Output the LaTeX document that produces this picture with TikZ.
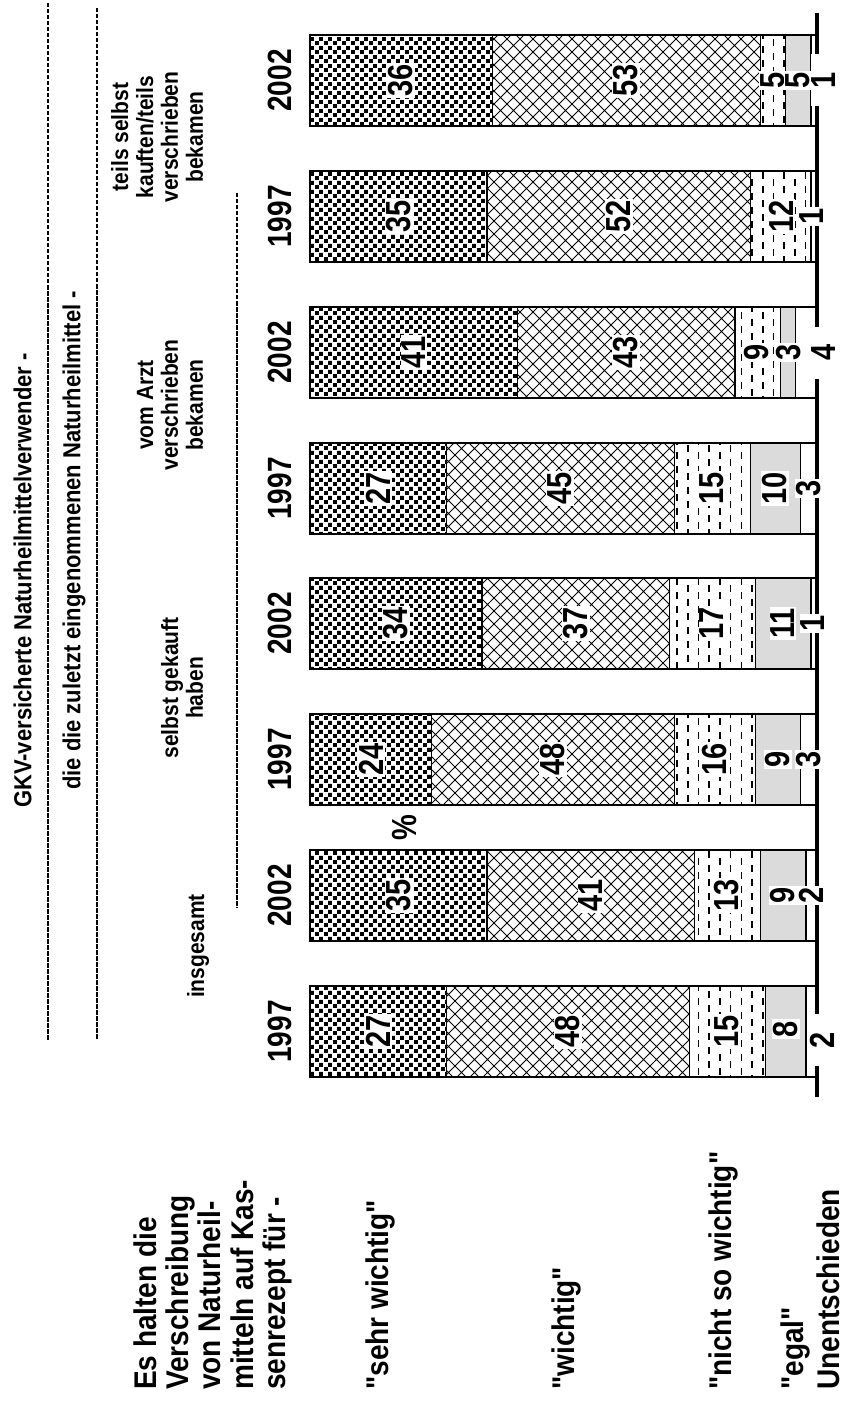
\documentclass[tikz,border=0pt]{standalone}
\usepackage{fontspec}
\setmainfont{Liberation Sans}[Ligatures=TeXOff]
\usetikzlibrary{patterns}
\pgfdeclarepatternformonly{mydots}{\pgfpointorigin}{\pgfpoint{9pt}{9pt}}{\pgfpoint{9pt}{9pt}}{%
  \pgfpathrectangle{\pgfpoint{0.1pt}{0.1pt}}{\pgfpoint{4.2pt}{4.2pt}}%
  \pgfpathrectangle{\pgfpoint{4.6pt}{4.6pt}}{\pgfpoint{4.2pt}{4.2pt}}%
  \pgfusepath{fill}}
\pgfdeclarepatternformonly{myhatch}{\pgfpoint{-1pt}{-1pt}}{\pgfpoint{14pt}{14pt}}{\pgfpoint{13pt}{13pt}}{%
  \pgfsetlinewidth{1pt}%
  \pgfpathmoveto{\pgfpoint{0pt}{0pt}}\pgfpathlineto{\pgfpoint{13pt}{13pt}}%
  \pgfpathmoveto{\pgfpoint{0pt}{13pt}}\pgfpathlineto{\pgfpoint{13pt}{0pt}}%
  \pgfusepath{stroke}}
\pgfdeclarepatternformonly{mydash}{\pgfpoint{-1pt}{-1pt}}{\pgfpoint{22.4pt}{15pt}}{\pgfpoint{21.4pt}{14pt}}{%
  \pgfsetlinewidth{1.6pt}%
  \pgfpathmoveto{\pgfpoint{3pt}{0pt}}\pgfpathlineto{\pgfpoint{3pt}{6.5pt}}%
  \pgfpathmoveto{\pgfpoint{13.7pt}{7pt}}\pgfpathlineto{\pgfpoint{13.7pt}{13.5pt}}%
  \pgfusepath{stroke}}
\newcommand\st[1]{\scalebox{1}[1.12]{#1}}
\newcommand\stt[1]{\scalebox{1}[1.2]{#1}}
\newcommand\bigf{\fontsize{28}{30}\selectfont\bfseries}
\newcommand\numf{\fontsize{29}{30}\selectfont\bfseries}
\newcommand\midf{\fontsize{21}{22.3}\selectfont\bfseries}
\newcommand\hdrf{\fontsize{22}{24}\selectfont\bfseries}
\newcommand\mybar[5]{%
  \pgfmathsetmacro\xa{310+5.06*#2}%
  \pgfmathsetmacro\xb{\xa+5.06*#3}%
  \pgfmathsetmacro\xc{\xb+5.06*#4}%
  \pgfmathsetmacro\xd{\xc+5.06*#5}%
  \pgfmathsetmacro\yb{#1+91}%
  \fill[pattern=mydots] (310,#1) rectangle (\xa,\yb);
  \fill[pattern=myhatch] (\xa,#1) rectangle (\xb,\yb);
  \fill[pattern=mydash] (\xb,#1) rectangle (\xc,\yb);
  \fill[graybar] (\xc,#1) rectangle (\xd,\yb);
  \draw[barline] (310,#1) rectangle (816,\yb);
  \draw[barline] (\xa,#1) -- (\xa,\yb) (\xb,#1) -- (\xb,\yb) (\xc,#1) -- (\xc,\yb) (\xd,#1) -- (\xd,\yb);
}
\begin{document}
\begin{tikzpicture}[x=1pt,y=-1pt,
  barline/.style={line width=1.3pt},
  graybar/.style={fill=black!14},
  num/.style={rotate=90,fill=white,inner sep=1.5pt,font=\numf},
  outnum/.style={num,minimum width=52pt},
  year/.style={rotate=90,inner sep=0pt,font=\bigf},
  grp/.style={rotate=90,inner sep=0pt,font=\midf},
  cat/.style={rotate=90,inner sep=0pt,font=\bigf,anchor=west},
  hdr/.style={rotate=90,inner sep=0pt,font=\hdrf,anchor=west},
  dline/.style={line width=2.2pt,dash pattern=on 4.5pt off 1.5pt},
  baseln/.style={line width=4.5pt}]
\useasboundingbox (0,0) rectangle (843,1404);
\fill[white] (0,0) rectangle (843,1404);

% header
\node[hdr] (h1) at (22.5,808) {\st{GKV-versicherte Naturheilmittelverwender -}};
\coordinate (d1a) at (48,3); \coordinate (d1b) at (48,1040);
\draw[dline] (d1a) -- (d1b);
\node[hdr] (h2) at (74,790) {\st{die die zuletzt eingenommenen Naturheilmittel -}};
\coordinate (d2a) at (97,8); \coordinate (d2b) at (97,1040);
\draw[dline] (d2a) -- (d2b);
\coordinate (d3a) at (237,193); \coordinate (d3b) at (237,908);
\draw[dline] (d3a) -- (d3b);

\node[grp] (g1) at (160.5,137) {\st{\begin{tabular}{@{}c@{}}teils selbst\\kauften/teils\\verschrieben\\bekamen\end{tabular}}};
\node[grp] (g2) at (173,405) {\st{\begin{tabular}{@{}c@{}}vom Arzt\\verschrieben\\bekamen\end{tabular}}};
\node[grp] (g3) at (185.5,688) {\st{\begin{tabular}{@{}c@{}}selbst gekauft\\haben\end{tabular}}};
\node[grp] (g4) at (198,946) {\st{insgesamt}};

% years
\node[year] (y1) at (280,80.5) {\stt{2002}};
\node[year] (y2) at (280,216.5) {\stt{1997}};
\node[year] (y3) at (280,352.5) {\stt{2002}};
\node[year] (y4) at (280,488.5) {\stt{1997}};
\node[year] (y5) at (280,623.5) {\stt{2002}};
\node[year] (y6) at (280,759.5) {\stt{1997}};
\node[year] (y7) at (280,895.5) {\stt{2002}};
\node[year] (y8) at (280,1031.5) {\stt{1997}};

% bars
\mybar{35}{36}{53}{5}{5}
\mybar{171}{35}{52}{12}{0}
\mybar{307}{41}{43}{9}{3}
\mybar{443}{27}{45}{15}{10}
\mybar{578}{34}{37}{17}{11}
\mybar{714}{24}{48}{16}{9}
\mybar{850}{35}{41}{13}{9}
\mybar{986}{27}{48}{15}{8}

\coordinate (bt) at (817,13); \coordinate (bb) at (817,1097);
\draw[baseln] (bt) -- (bb);

% values
\node[num] (v11) at (401,80.5) {\stt{36}};
\node[num] (v12) at (626,80.5) {\stt{53}};
\node[num] (v13) at (773,80.5) {\stt{5}};
\node[num] (v14) at (798,80.5) {\stt{5}};
\node[outnum] (v15) at (824,80.5) {\stt{1}};

\node[num] (v21) at (399,216.5) {\stt{35}};
\node[num] (v22) at (619,216.5) {\stt{52}};
\node[num] (v23) at (781,216.5) {\stt{12}};
\node[num] (v25) at (812,216.5) {\stt{1}};

\node[num] (v31) at (414,352.5) {\stt{41}};
\node[num] (v32) at (626,352.5) {\stt{43}};
\node[num] (v33) at (757,352.5) {\stt{9}};
\node[num] (v34) at (789,352.5) {\stt{3}};
\node[outnum] (v35) at (824,352.5) {\stt{4}};

\node[num] (v41) at (378,488.5) {\stt{27}};
\node[num] (v42) at (560,488.5) {\stt{45}};
\node[num] (v43) at (712,488.5) {\stt{15}};
\node[num] (v44) at (775,488.5) {\stt{10}};
\node[num] (v45) at (809,488.5) {\stt{3}};

\node[num] (v51) at (396,623.5) {\stt{34}};
\node[num] (v52) at (576,623.5) {\stt{37}};
\node[num] (v53) at (712,623.5) {\stt{17}};
\node[num] (v54) at (783,623.5) {\stt{11}};
\node[num] (v55) at (813,623.5) {\stt{1}};

\node[num] (v61) at (371,759.5) {\stt{24}};
\node[num] (v62) at (553,759.5) {\stt{48}};
\node[num] (v63) at (715,759.5) {\stt{16}};
\node[num] (v64) at (778,759.5) {\stt{9}};
\node[num] (v65) at (809,759.5) {\stt{3}};

\node[num] (v71) at (399,895.5) {\stt{35}};
\node[num] (v72) at (591,895.5) {\stt{41}};
\node[num] (v73) at (727,895.5) {\stt{13}};
\node[num] (v74) at (783,895.5) {\stt{9}};
\node[num] (v75) at (811,895.5) {\stt{2}};

\node[num] (v81) at (378,1031.5) {\stt{27}};
\node[num] (v82) at (568,1031.5) {\stt{48}};
\node[num] (v83) at (727,1031.5) {\stt{15}};
\node[num] (v84) at (786,1029) {\stt{8}};
\node[outnum] (v85) at (822,1040) {\stt{2}};

\node[num] (pct) at (405,828) {\stt{\%}};

% left labels
\node[rotate=90,inner sep=0pt,font=\fontsize{28}{27.7}\selectfont\bfseries,anchor=north west] (q) at (134,1390)
  {\st{\begin{tabular}{@{}l@{}}Es halten die\\Verschreibung\\von Naturheil-\\mitteln auf Kas-\\senrezept für -\end{tabular}}};
\node[cat] (c1) at (380,1390) {\st{"sehr wichtig"}};
\node[cat] (c2) at (566,1390) {\st{"wichtig"}};
\node[cat] (c3) at (723,1390) {\st{"nicht so wichtig"}};
\node[cat] (c4) at (795,1390) {\st{"egal"}};
\node[cat] (c5) at (828,1390) {\st{Unentschieden}};
\end{tikzpicture}
\end{document}
